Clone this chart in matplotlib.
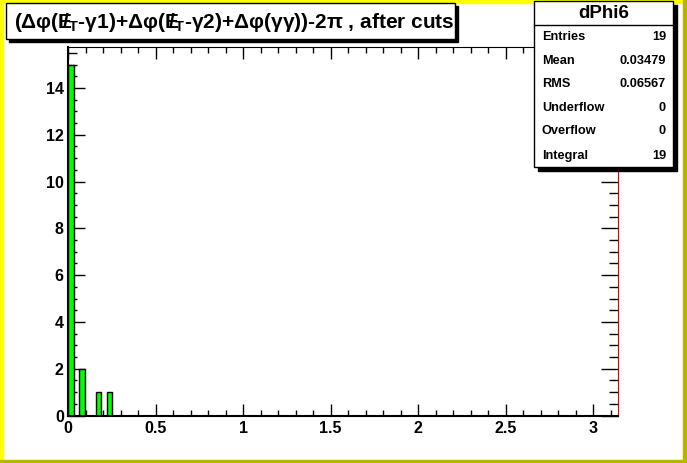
import matplotlib
matplotlib.use("Agg")
import matplotlib.pyplot as plt
from matplotlib.patches import Rectangle
from matplotlib.ticker import MultipleLocator
import numpy as np

# histogram dPhi6: 100 bins from 0 to pi, only a few bins are filled
n_bins = 100
filled_bins = [0, 2, 5, 7]
bin_counts = [15, 2, 1, 1]

stat_names = ["Entries", "Mean", "RMS", "Underflow", "Overflow", "Integral"]
stat_values = ["19", "0.03479", "0.06567", "0", "0", "19"]

title = r"(Δφ($E\!\!\!/_{T}$-γ1)+Δφ($E\!\!\!/_{T}$-γ2)+Δφ(γγ))-2π , after cuts"

plt.rcParams["font.family"] = ["Liberation Sans", "DejaVu Sans"]
plt.rcParams["font.weight"] = "bold"
plt.rcParams["mathtext.fontset"] = "custom"
plt.rcParams["mathtext.rm"] = "Liberation Sans:bold"
plt.rcParams["mathtext.it"] = "Liberation Sans:bold"
plt.rcParams["mathtext.bf"] = "Liberation Sans:bold"

W, H = 687, 463


def fx(x):
    return x / W


def fy(y):
    return 1 - y / H


fig = plt.figure(figsize=(W / 100, H / 100), dpi=100, facecolor="white")

# canvas border (light top/left, dark bottom/right)
fig.patches.append(Rectangle((0, 0), fx(3), 1, transform=fig.transFigure, color="#ffff00", zorder=0))
fig.patches.append(Rectangle((0, fy(3)), 1, 3 / H, transform=fig.transFigure, color="#ffff00", zorder=0))
fig.patches.append(Rectangle((0, 0), 1, 3 / H, transform=fig.transFigure, color="#b5b500", zorder=0))
fig.patches.append(Rectangle((fx(W - 4), 0), 4 / W, 1, transform=fig.transFigure, color="#b5b500", zorder=0))

ax = fig.add_axes([fx(68), fy(415.5), fx(618 - 68), (415.5 - 47) / H])

edges = np.linspace(0, np.pi, n_bins + 1)
width = edges[1] - edges[0]
ax.bar(edges[filled_bins], bin_counts, width=width, align="edge",
       color="#00ff00", edgecolor="black", linewidth=1.0, zorder=2)

ax.set_xlim(0, np.pi)
ax.set_ylim(0, 15.75)
ax.xaxis.set_major_locator(MultipleLocator(0.5))
ax.xaxis.set_minor_locator(MultipleLocator(0.1))
ax.yaxis.set_major_locator(MultipleLocator(2))
ax.yaxis.set_minor_locator(MultipleLocator(0.5))
ax.xaxis.set_major_formatter(plt.FuncFormatter(lambda v, p: f"{v:g}"))

ax.tick_params(which="both", direction="in", top=True, right=True,
               labelsize=11.5, width=1.0, color="black", zorder=5)
ax.tick_params(axis="x", which="major", length=8.5, pad=4)
ax.tick_params(axis="x", which="minor", length=4.3)
ax.tick_params(axis="y", which="major", length=12, pad=3)
ax.tick_params(axis="y", which="minor", length=6.5)
for lab in ax.get_xticklabels() + ax.get_yticklabels():
    lab.set_fontweight("bold")

ax.spines["left"].set_linewidth(1.5)
ax.spines["bottom"].set_linewidth(1.5)
ax.spines["top"].set_linewidth(0.8)
ax.spines["right"].set_linewidth(0.8)
ax.spines["right"].set_color("#dd0000")
for s in ax.spines.values():
    s.set_zorder(4)


def shadow_box(x0, y0, x1, y1, off):
    fig.patches.append(Rectangle((fx(x0 + off), fy(y1 + off)), fx(x1 - x0), (y1 - y0) / H,
                                 transform=fig.transFigure, facecolor="black",
                                 edgecolor="black", zorder=6))
    fig.patches.append(Rectangle((fx(x0), fy(y1)), fx(x1 - x0), (y1 - y0) / H,
                                 transform=fig.transFigure, facecolor="white",
                                 edgecolor="black", linewidth=1.0, zorder=7))


# title box
shadow_box(6, 3, 455, 39, 3)
fig.text(fx(14), fy(22), title, fontsize=15, fontweight="bold", ha="left", va="center", zorder=8)

# stats box
shadow_box(534, 1, 673, 167, 4)
fig.add_artist(plt.Line2D([fx(534), fx(673)], [fy(25), fy(25)], color="black", lw=1.0, zorder=8))
fig.text(fx(604), fy(13), "dPhi6", fontsize=13.5, fontweight="bold", ha="center", va="center", zorder=8)
row_y = [37, 61, 84, 108, 131, 156]
for name, val, y in zip(stat_names, stat_values, row_y):
    fig.text(fx(542), fy(y), name, fontsize=9.2, fontweight="bold", ha="left", va="center", zorder=8)
    fig.text(fx(666), fy(y), val, fontsize=9.2, fontweight="bold", ha="right", va="center", zorder=8)

fig.savefig("out.png", dpi=100, facecolor="white")
